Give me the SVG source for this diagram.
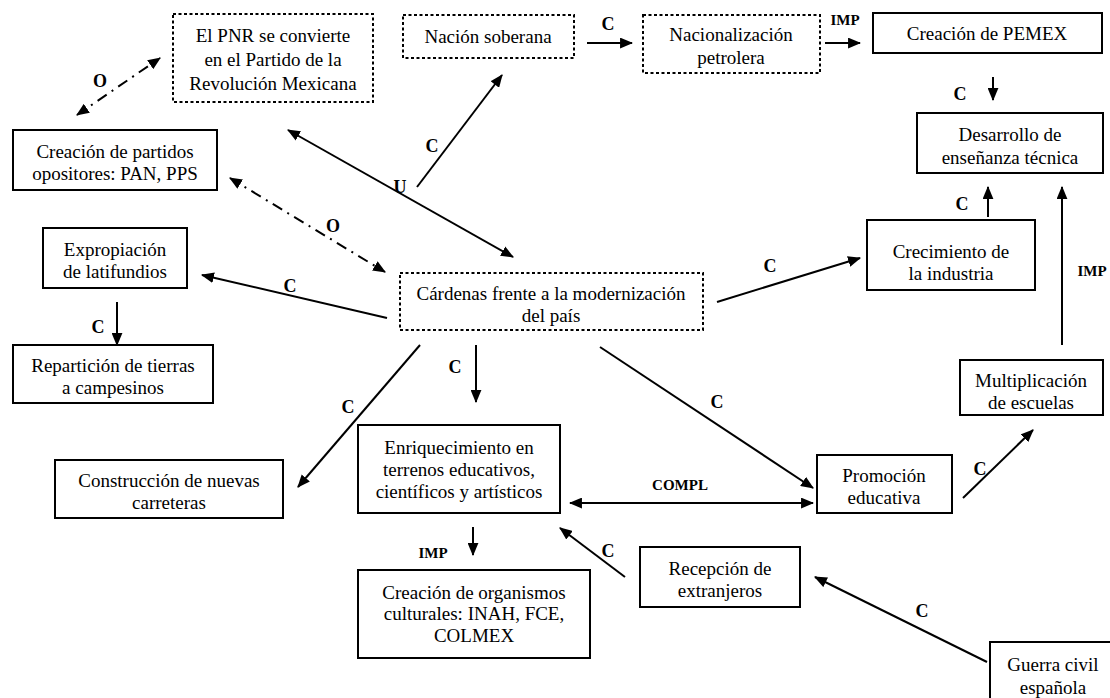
<svg xmlns="http://www.w3.org/2000/svg" width="1110" height="698" viewBox="0 0 1110 698">
  <defs>
    <marker id="arrow" viewBox="0 0 12 10" refX="11" refY="5" markerWidth="13" markerHeight="11" markerUnits="userSpaceOnUse" orient="auto-start-reverse">
      <path d="M0,0 L12,5 L0,10 z" fill="#000"/>
    </marker>
    <style>
      .box { fill: #fff; stroke: #000; stroke-width: 2; }
      .dot { fill: #fff; stroke: #000; stroke-width: 2; stroke-dasharray: 3 2.5; }
      .node text { font-family: "Liberation Serif", "Times New Roman", serif; font-size: 19px; text-anchor: middle; fill: #000; }
      .edge { fill: none; stroke: #000; stroke-width: 2; }
      .one { marker-end: url(#arrow); }
      .two { marker-start: url(#arrow); marker-end: url(#arrow); }
      .dashdot { stroke-dasharray: 11 6 2 6; }
      .lbl { font-family: "Liberation Serif", "Times New Roman", serif; font-size: 18px; font-weight: bold; text-anchor: middle; fill: #000; }
      .sm { font-size: 15px; }
    </style>
  </defs>
  <rect width="1110" height="698" fill="#fff"/>

  <!-- connectors -->
  <g id="connectors">
    <line class="edge two dashdot" x1="77" y1="115" x2="160" y2="58"/>
    <line class="edge two dashdot" x1="230" y1="178" x2="385" y2="272"/>
    <line class="edge two" x1="288" y1="130" x2="513" y2="257"/>
    <line class="edge one" x1="417" y1="187" x2="502" y2="75"/>
    <line class="edge one" x1="587" y1="43" x2="632" y2="43"/>
    <line class="edge one" x1="825" y1="43" x2="860" y2="43"/>
    <line class="edge one" x1="993" y1="77" x2="993" y2="100"/>
    <line class="edge one" x1="988" y1="217" x2="988" y2="187"/>
    <line class="edge one" x1="1062" y1="345" x2="1062" y2="187"/>
    <line class="edge one" x1="717" y1="302" x2="860" y2="258"/>
    <line class="edge one" x1="600" y1="347" x2="813" y2="488"/>
    <line class="edge one" x1="963" y1="498" x2="1033" y2="430"/>
    <line class="edge two" x1="570" y1="503" x2="813" y2="503"/>
    <line class="edge one" x1="987" y1="662" x2="815" y2="577"/>
    <line class="edge one" x1="625" y1="577" x2="560" y2="528"/>
    <line class="edge one" x1="473" y1="527" x2="473" y2="555"/>
    <line class="edge one" x1="476" y1="345" x2="476" y2="402"/>
    <line class="edge one" x1="420" y1="345" x2="298" y2="487"/>
    <line class="edge one" x1="387" y1="318" x2="202" y2="275"/>
    <line class="edge one" x1="117" y1="302" x2="117" y2="345"/>

    <text class="lbl" x="100" y="87">O</text>
    <text class="lbl" x="333" y="232">O</text>
    <text class="lbl" x="400" y="193">U</text>
    <text class="lbl" x="432" y="152">C</text>
    <text class="lbl" x="608" y="30">C</text>
    <text class="lbl sm" x="845" y="25">IMP</text>
    <text class="lbl" x="960" y="100">C</text>
    <text class="lbl" x="962" y="210">C</text>
    <text class="lbl sm" x="1092" y="276">IMP</text>
    <text class="lbl" x="770" y="272">C</text>
    <text class="lbl" x="717" y="408">C</text>
    <text class="lbl" x="980" y="475">C</text>
    <text class="lbl sm" x="680" y="490">COMPL</text>
    <text class="lbl" x="922" y="617">C</text>
    <text class="lbl" x="608" y="557">C</text>
    <text class="lbl sm" x="433" y="558">IMP</text>
    <text class="lbl" x="455" y="373">C</text>
    <text class="lbl" x="348" y="413">C</text>
    <text class="lbl" x="290" y="292">C</text>
    <text class="lbl" x="98" y="333">C</text>
  </g>

  <!-- nodes -->
  <g id="pnr" class="node">
    <rect class="dot" x="173" y="14" width="200" height="88"/>
    <text x="273" y="42">El PNR se convierte</text>
    <text x="273" y="66">en el Partido de la</text>
    <text x="273" y="90">Revolución Mexicana</text>
  </g>
  <g id="nacion" class="node">
    <rect class="dot" x="403" y="15" width="171" height="43"/>
    <text x="488" y="43">Nación soberana</text>
  </g>
  <g id="nacionalizacion" class="node">
    <rect class="dot" x="643" y="15" width="177" height="58"/>
    <text x="731" y="41">Nacionalización</text>
    <text x="731" y="64">petrolera</text>
  </g>
  <g id="pemex" class="node">
    <rect class="box" x="873" y="13" width="229" height="40"/>
    <text x="987" y="40">Creación de PEMEX</text>
  </g>
  <g id="desarrollo" class="node">
    <rect class="box" x="917" y="113" width="186" height="60"/>
    <text x="1010" y="141">Desarrollo de</text>
    <text x="1010" y="164">enseñanza técnica</text>
  </g>
  <g id="crecimiento" class="node">
    <rect class="box" x="867" y="220" width="168" height="70"/>
    <text x="951" y="258">Crecimiento de</text>
    <text x="951" y="280">la industria</text>
  </g>
  <g id="multiplicacion" class="node">
    <rect class="box" x="960" y="360" width="143" height="55"/>
    <text x="1031" y="387">Multiplicación</text>
    <text x="1031" y="409">de escuelas</text>
  </g>
  <g id="promocion" class="node">
    <rect class="box" x="817" y="455" width="135" height="58"/>
    <text x="884" y="482">Promoción</text>
    <text x="884" y="504">educativa</text>
  </g>
  <g id="recepcion" class="node">
    <rect class="box" x="640" y="547" width="160" height="60"/>
    <text x="720" y="575">Recepción de</text>
    <text x="720" y="597">extranjeros</text>
  </g>
  <g id="guerra" class="node">
    <rect class="box" x="990" y="642" width="126" height="65"/>
    <text x="1053" y="671">Guerra civil</text>
    <text x="1053" y="694">española</text>
  </g>
  <g id="enriquecimiento" class="node">
    <rect class="box" x="358" y="425" width="202" height="88"/>
    <text x="459" y="454">Enriquecimiento en</text>
    <text x="459" y="476">terrenos educativos,</text>
    <text x="459" y="498">científicos y artísticos</text>
  </g>
  <g id="organismos" class="node">
    <rect class="box" x="358" y="570" width="232" height="88"/>
    <text x="474" y="599">Creación de organismos</text>
    <text x="474" y="620">culturales: INAH, FCE,</text>
    <text x="474" y="642">COLMEX</text>
  </g>
  <g id="cardenas" class="node">
    <rect class="dot" x="400" y="273" width="303" height="57"/>
    <text x="551" y="300">Cárdenas frente a la modernización</text>
    <text x="551" y="322">del país</text>
  </g>
  <g id="construccion" class="node">
    <rect class="box" x="55" y="460" width="228" height="58"/>
    <text x="169" y="487">Construcción de nuevas</text>
    <text x="169" y="509">carreteras</text>
  </g>
  <g id="expropiacion" class="node">
    <rect class="box" x="43" y="228" width="144" height="60"/>
    <text x="115" y="256">Expropiación</text>
    <text x="115" y="278">de latifundios</text>
  </g>
  <g id="reparticion" class="node">
    <rect class="box" x="13" y="345" width="200" height="58"/>
    <text x="113" y="372">Repartición de tierras</text>
    <text x="113" y="394">a campesinos</text>
  </g>
  <g id="partidos" class="node">
    <rect class="box" x="13" y="130" width="204" height="60"/>
    <text x="115" y="158">Creación de partidos</text>
    <text x="115" y="180">opositores: PAN, PPS</text>
  </g>
</svg>
